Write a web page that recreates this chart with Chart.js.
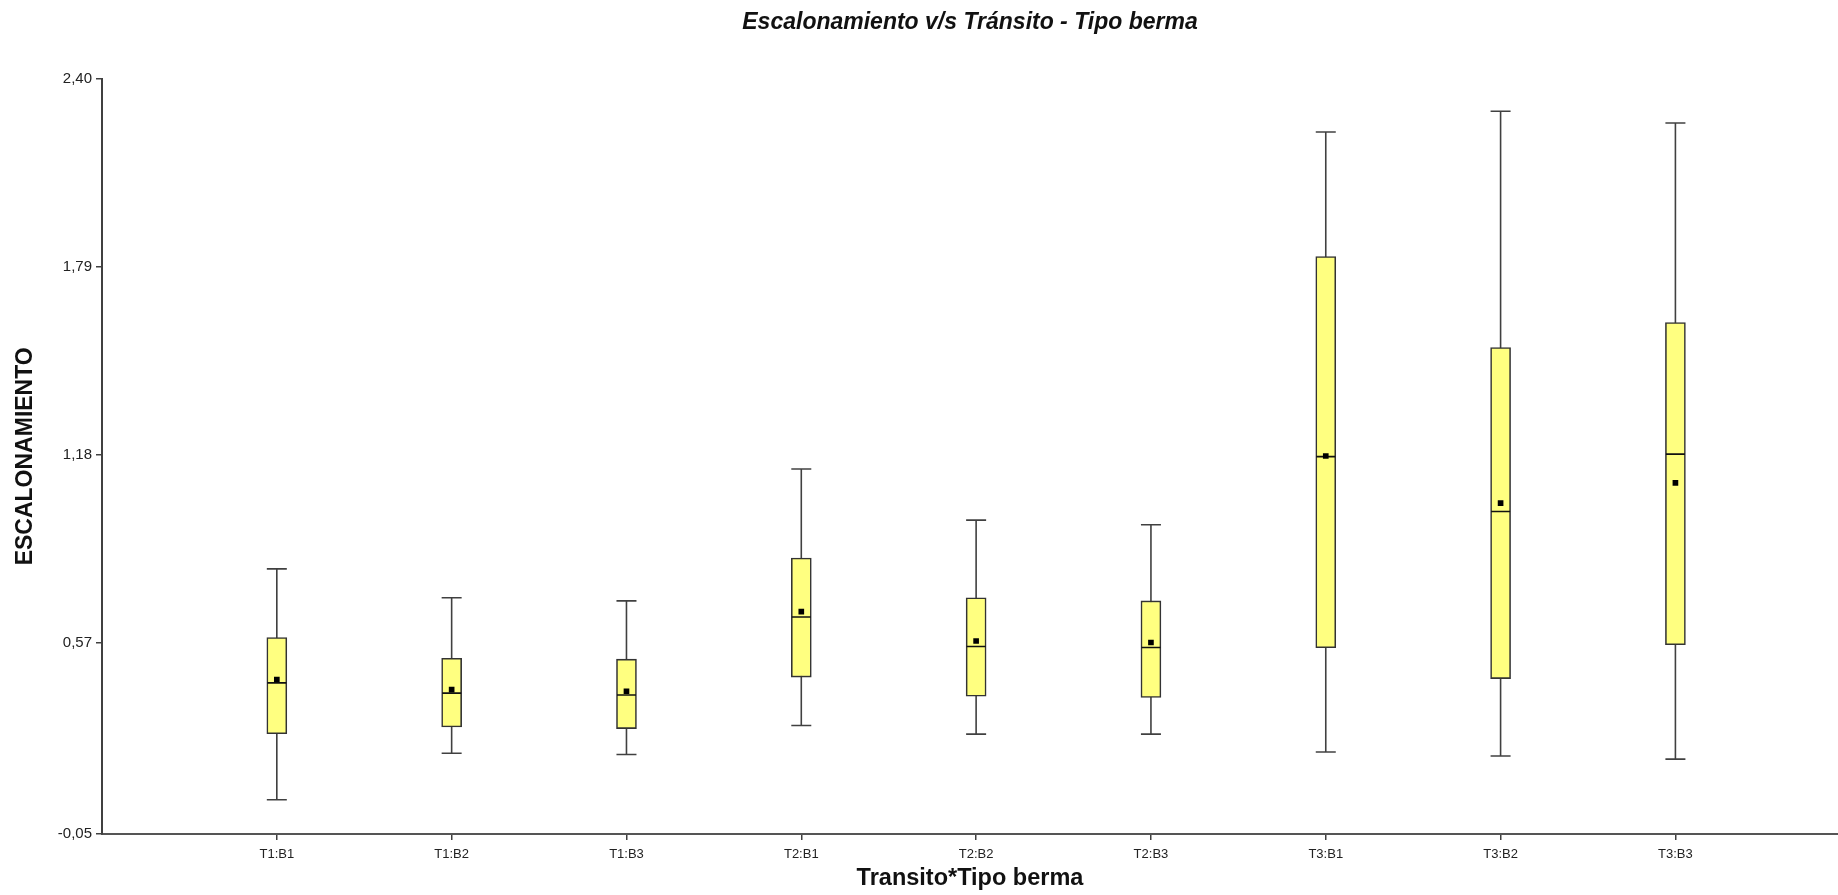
<!DOCTYPE html>
<html>
<head>
<meta charset="utf-8">
<title>Escalonamiento v/s Tránsito - Tipo berma</title>
<script src="https://cdn.jsdelivr.net/npm/chart.js@4.4.1/dist/chart.umd.min.js"></script>
<style>
    html, body { margin: 0; padding: 0; background: #fff; overflow: hidden; }
    #wrap { width: 1838px; height: 895px; position: relative; }
    #box { display: block; }
</style>
</head>
<body>
<div id="wrap"><canvas id="box"></canvas></div>
<script>
// values
const categories = ["T1:B1", "T1:B2", "T1:B3", "T2:B1", "T2:B2", "T2:B3", "T3:B1", "T3:B2", "T3:B3"];
const mins    = [0.061, 0.212, 0.208, 0.302, 0.274, 0.274, 0.216, 0.203, 0.193];
const q1s     = [0.275, 0.297, 0.292, 0.459, 0.397, 0.393, 0.554, 0.454, 0.564];
const medians = [0.440, 0.407, 0.401, 0.654, 0.558, 0.555, 1.174, 0.996, 1.182];
const means   = [0.451, 0.418, 0.413, 0.671, 0.576, 0.571, 1.176, 1.023, 1.089];
const q3s     = [0.587, 0.520, 0.517, 0.845, 0.716, 0.706, 1.823, 1.528, 1.609];
const maxs    = [0.810, 0.716, 0.706, 1.134, 0.968, 0.953, 2.227, 2.294, 2.256];
const yTicks  = [-0.05, 0.57, 1.18, 1.79, 2.40];

const FONT = "'Liberation Sans', Arial, Helvetica, sans-serif";
const INK = "#404040";
Chart.defaults.font.family = FONT;
Chart.defaults.color = "#222";

const pos = (i) => i + 1;

// whiskers: one segment per category, broken with null points
const whiskerPts = [];
categories.forEach((c, i) => {
    whiskerPts.push({ x: pos(i), y: mins[i] });
    whiskerPts.push({ x: pos(i), y: maxs[i] });
    whiskerPts.push({ x: pos(i), y: null });
});

const capPts = [];
categories.forEach((c, i) => {
    capPts.push({ x: pos(i), y: mins[i] });
    capPts.push({ x: pos(i), y: maxs[i] });
});

const ctx = document.getElementById("box");
const chart = new Chart(ctx, {
    type: "bar",
    data: {
        datasets: [
            {
                type: "line",
                data: whiskerPts,
                borderColor: INK,
                borderWidth: 1.6,
                pointRadius: 0,
                spanGaps: false,
                order: 5,
            },
            {
                type: "bar",
                data: categories.map((c, i) => ({ x: pos(i), y: [q1s[i], q3s[i]] })),
                backgroundColor: "#ffff80",
                borderColor: "#333",
                borderWidth: 1.6,
                borderSkipped: false,
                barThickness: 20,
                grouped: false,
                order: 4,
            },
            {
                type: "line",
                data: capPts,
                showLine: false,
                pointStyle: "line",
                pointRadius: 10,
                pointBorderColor: INK,
                pointBorderWidth: 1.6,
                order: 3,
            },
            {
                type: "line",
                data: categories.map((c, i) => ({ x: pos(i), y: medians[i] })),
                showLine: false,
                pointStyle: "line",
                pointRadius: 9.5,
                pointBorderColor: "#111",
                pointBorderWidth: 1.6,
                order: 2,
            },
            {
                type: "line",
                data: categories.map((c, i) => ({ x: pos(i), y: means[i] })),
                showLine: false,
                pointStyle: "rect",
                pointRadius: 4,
                pointBackgroundColor: "#000",
                pointBorderWidth: 0,
                order: 1,
            },
        ],
    },
    options: {
        responsive: true,
        maintainAspectRatio: false,
        animation: false,
        layout: { autoPadding: false, padding: { left: 0, right: 0, top: 0, bottom: 0 } },
        plugins: {
            legend: { display: false },
            tooltip: { enabled: false },
            title: {
                display: true,
                fullSize: false,
                text: "Escalonamiento v/s Tránsito - Tipo berma",
                color: "#111",
                font: { size: 23, weight: "bold", style: "italic", family: FONT },
                padding: { top: 9, bottom: 42 },
            },
        },
        scales: {
            x: {
                type: "linear",
                min: 0,
                max: 9.93,
                offset: false,
                afterBuildTicks: (scale) => {
                    scale.ticks = categories.map((c, i) => ({ value: pos(i) }));
                },
                afterFit: (scale) => { scale.height = 61; },
                ticks: {
                    autoSkip: false,
                    maxRotation: 0,
                    padding: 7,
                    font: { size: 13 },
                    callback: (v, i) => categories[i],
                },
                grid: {
                    display: true,
                    offset: false,
                    drawOnChartArea: false,
                    drawTicks: true,
                    tickLength: 6,
                    color: INK,
                    lineWidth: 1.5,
                },
                border: { display: true, color: "#555", width: 2 },
                title: {
                    display: true,
                    text: "Transito*Tipo berma",
                    color: "#111",
                    font: { size: 23.5, weight: "bold" },
                    padding: { top: 0, bottom: 2 },
                },
            },
            y: {
                type: "linear",
                min: -0.05,
                max: 2.40,
                afterBuildTicks: (scale) => {
                    scale.ticks = yTicks.map((v) => ({ value: v }));
                },
                afterFit: (scale) => { scale.width = 102; },
                ticks: {
                    padding: 4,
                    font: { size: 15 },
                    callback: (v) => v.toFixed(2).replace(".", ","),
                },
                grid: {
                    display: true,
                    drawOnChartArea: false,
                    drawTicks: true,
                    tickLength: 6,
                    color: INK,
                    lineWidth: 1.5,
                },
                border: { display: true, color: INK, width: 2 },
                title: {
                    display: true,
                    text: "ESCALONAMIENTO",
                    color: "#111",
                    font: { size: 23, weight: "bold" },
                    padding: { top: 12, bottom: 0 },
                },
            },
        },
    },
});
</script>
</body>
</html>
